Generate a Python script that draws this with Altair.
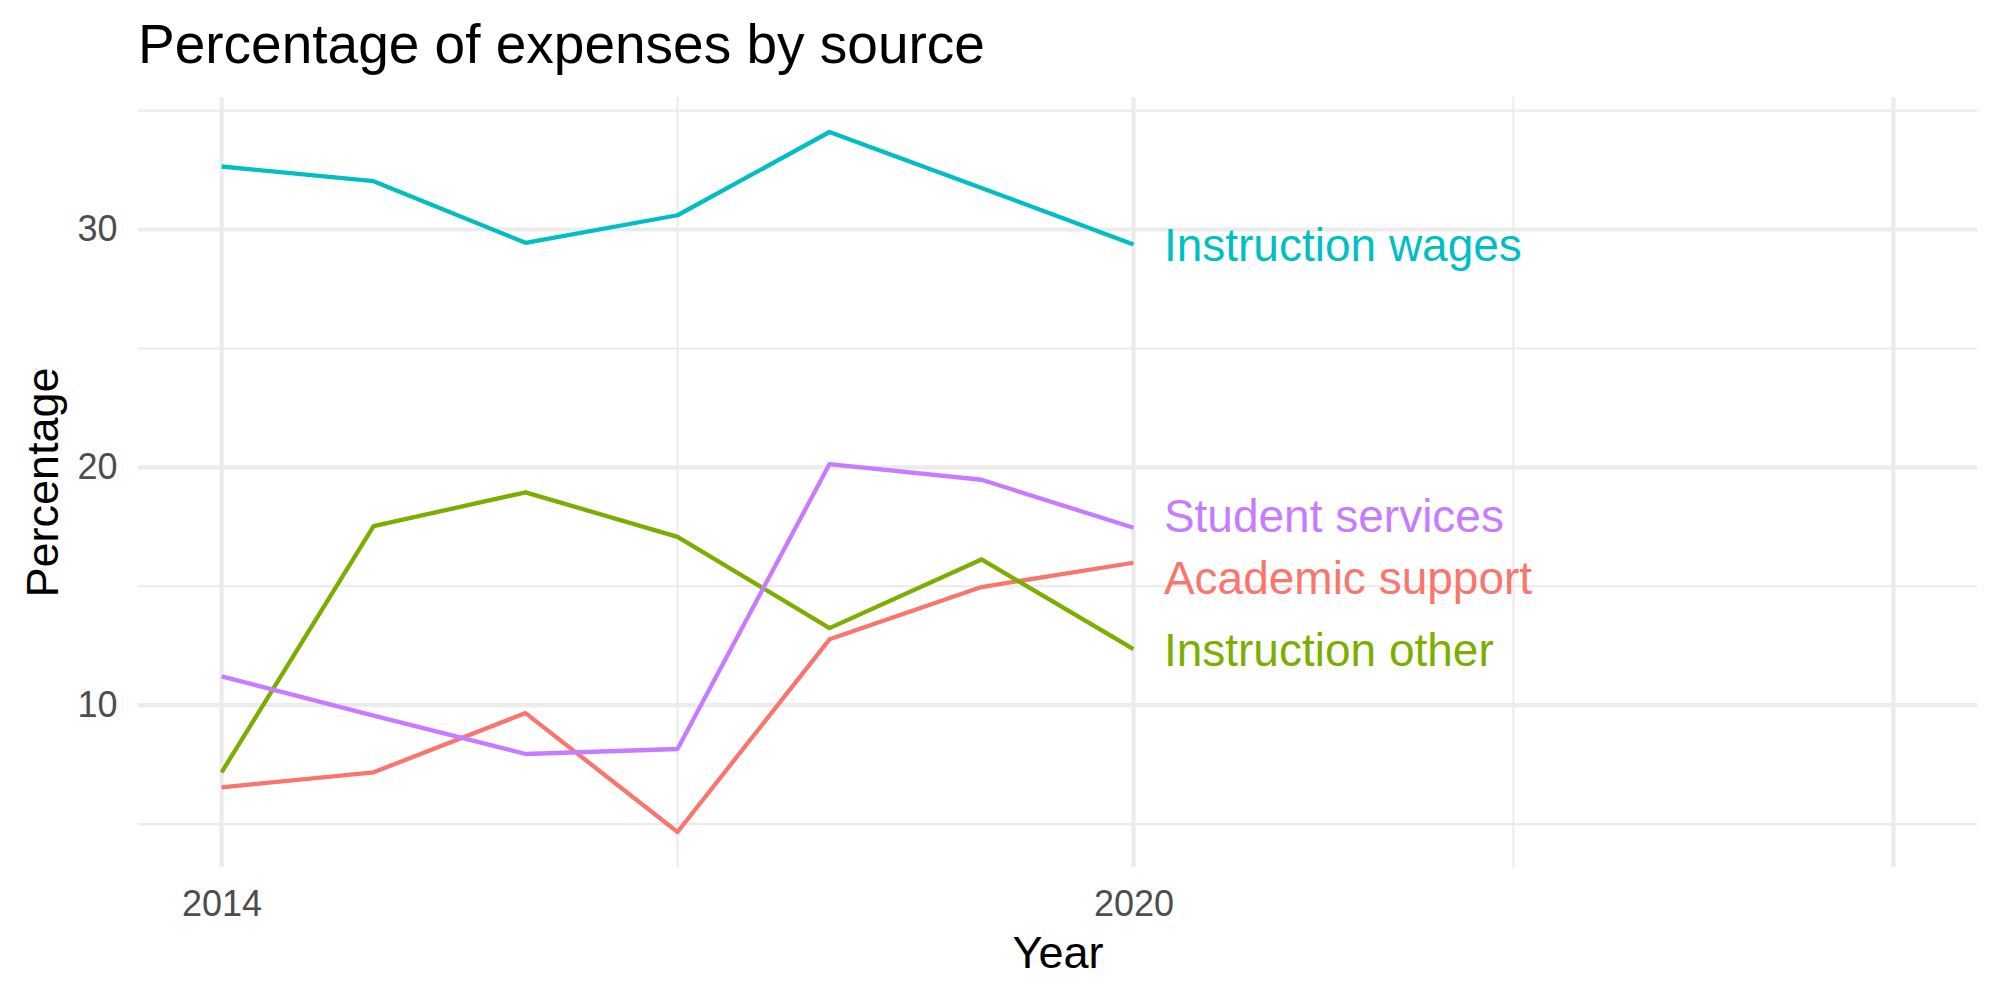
import altair as alt
import pandas as pd

# Share of expenses (%) by source, 2014-2020
years = [2014, 2015, 2016, 2017, 2018, 2019, 2020]
academic_support = [6.55, 7.18, 9.67, 4.67, 12.77, 14.97, 15.99]
instruction_other = [7.18, 17.53, 18.95, 17.08, 13.24, 16.13, 12.36]
instruction_wages = [32.65, 32.03, 29.44, 30.60, 34.10, 31.75, 29.37]
student_services = [11.21, 9.56, 7.95, 8.16, 20.14, 19.48, 17.46]

sources = ["Academic support", "Instruction other", "Instruction wages", "Student services"]
palette = ["#F8766D", "#7CAE00", "#00BFC4", "#C77CFF"]

# end-of-line labels, nudged apart so they do not overlap
label_year = 2020.2
label_pct = [15.26, 12.22, 29.25, 17.89]

# grid breaks
x_major = [2014, 2020, 2025]
x_minor = [2017, 2022.5]
y_major = [10, 20, 30]
y_minor = [5, 15, 25, 35]
x_labels = [2014, 2020]

series = {
    "Academic support": academic_support,
    "Instruction other": instruction_other,
    "Instruction wages": instruction_wages,
    "Student services": student_services,
}
long = pd.DataFrame(
    [{"Year": y, "Source": s, "Percentage": v}
     for s, vals in series.items() for y, v in zip(years, vals)]
)
labels = pd.DataFrame({"Source": sources, "Year": [label_year] * 4, "Percentage": label_pct})

# continuous scales with 5% expansion, x limits running to 2025
x_lo, x_hi = 2014, 2025
all_vals = [v for vals in series.values() for v in vals]
y_lo, y_hi = min(all_vals), max(all_vals)
xs = alt.Scale(domain=[x_lo - 0.05 * (x_hi - x_lo), x_hi + 0.05 * (x_hi - x_lo)], nice=False, zero=False)
ys = alt.Scale(domain=[y_lo - 0.05 * (y_hi - y_lo), y_hi + 0.05 * (y_hi - y_lo)], nice=False, zero=False)
cs = alt.Scale(domain=sources, range=palette)

FONT = "Liberation Sans"
GRID = "#EBEBEB"

x_axis = alt.Axis(values=x_labels, format="d", grid=False, domain=False, ticks=False, tickSize=0,
                  labelFontSize=36, labelFont=FONT, labelColor="#4D4D4D", labelPadding=20,
                  labelFlush=False, labelOverlap=False,
                  title="Year", titleFontSize=45, titleFont=FONT, titleFontWeight="normal",
                  titleColor="black", titleBaseline="alphabetic", titleY=100)
y_axis = alt.Axis(values=y_major, grid=False, domain=False, ticks=False, tickSize=0,
                  labelFontSize=36, labelFont=FONT, labelColor="#4D4D4D", labelPadding=21,
                  title="Percentage", titleFontSize=45, titleFont=FONT, titleFontWeight="normal",
                  titleColor="black", titleBaseline="alphabetic", titleX=-81, titleY=385,
                  titleAngle=270)


def vgrid(vals, width):
    return alt.Chart(pd.DataFrame({"Year": vals})).mark_rule(color=GRID, strokeWidth=width).encode(
        x=alt.X("Year:Q", scale=xs, axis=x_axis)
    )


def hgrid(vals, width):
    return alt.Chart(pd.DataFrame({"Percentage": vals})).mark_rule(color=GRID, strokeWidth=width).encode(
        y=alt.Y("Percentage:Q", scale=ys, axis=y_axis)
    )


lines = alt.Chart(long).mark_line(strokeWidth=4.3, strokeCap="butt", strokeJoin="round").encode(
    x=alt.X("Year:Q", scale=xs, axis=x_axis),
    y=alt.Y("Percentage:Q", scale=ys, axis=y_axis),
    color=alt.Color("Source:N", scale=cs, legend=None),
    detail="Source:N",
)

text = alt.Chart(labels).mark_text(align="left", baseline="middle", fontSize=46, font=FONT).encode(
    x=alt.X("Year:Q", scale=xs, axis=x_axis),
    y=alt.Y("Percentage:Q", scale=ys, axis=y_axis),
    text="Source:N",
    color=alt.Color("Source:N", scale=cs, legend=None),
)

chart = alt.layer(
    vgrid(x_minor, 2.1), hgrid(y_minor, 2.1), vgrid(x_major, 4.2), hgrid(y_major, 4.2), lines, text
).properties(
    width=1839,
    height=770,
    title=alt.TitleParams("Percentage of expenses by source", anchor="start", frame="group",
                          fontSize=55, font=FONT, fontWeight="normal", color="black",
                          baseline="alphabetic", offset=34, dy=57),
    autosize=alt.AutoSizeParams(type="none"),
    padding={"left": 138, "top": 97, "right": 23, "bottom": 133},
    background="white",
).configure_view(stroke=None)

chart.save("out.html", embed_options={"renderer": "svg", "actions": False})
